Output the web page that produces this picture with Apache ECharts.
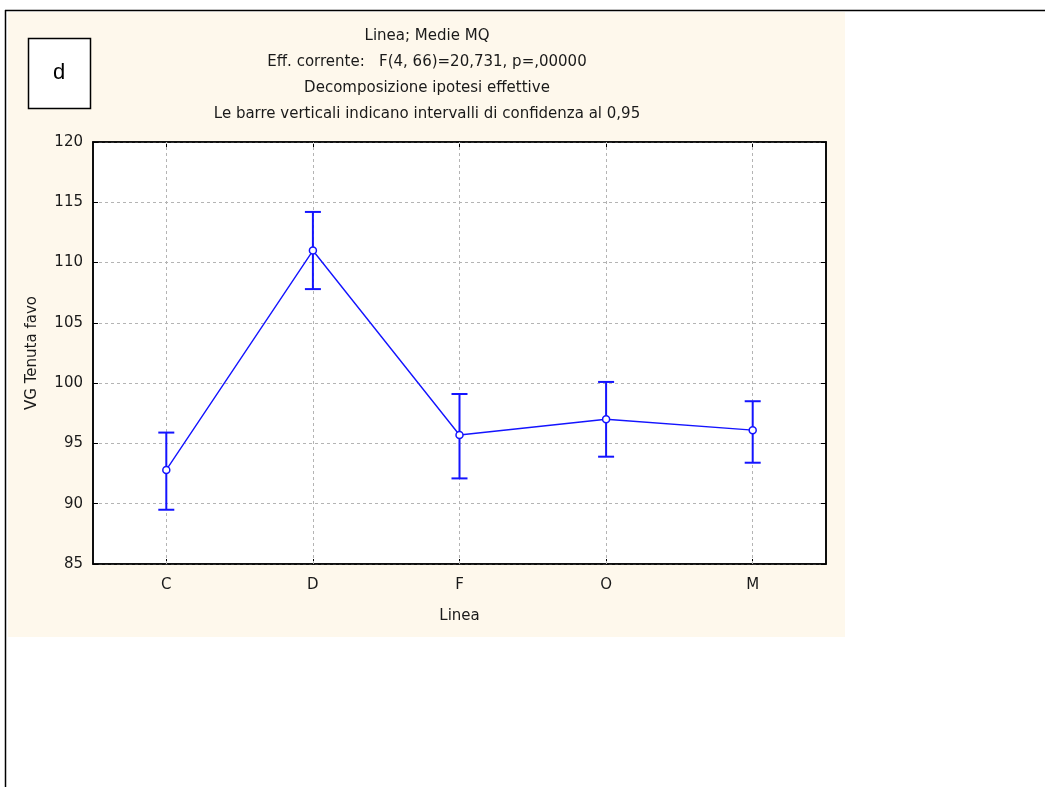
<!DOCTYPE html>
<html><head><meta charset="utf-8">
<script src="https://cdn.jsdelivr.net/npm/echarts@6/dist/echarts.min.js"></script>
<style>html,body{margin:0;padding:0;background:#fff;}#c{width:1045px;height:787px;}</style>
</head><body><div id="c"></div>
<script>
const categories = ['C', 'D', 'F', 'O', 'M'];
const means = [92.8, 111.0, 95.7, 97.0, 96.1];
const upper = [95.9, 114.2, 99.1, 100.1, 98.5];
const lower = [89.5, 107.8, 92.1, 93.9, 93.4];
const titleLines = [
  'Linea; Medie MQ',
  'Eff. corrente:   F(4, 66)=20,731, p=,00000',
  'Decomposizione ipotesi effettive',
  'Le barre verticali indicano intervalli di confidenza al 0,95'
];

const chart = echarts.init(document.getElementById('c'));
const font = '"DejaVu Sans", sans-serif';
const fs = 15;
const blue = '#1414ff';
const grey = '#b4b4b4';

const errData = categories.map((c, i) => [i, lower[i], upper[i]]);
const titleY = [36, 62, 88, 114];

chart.setOption({
  backgroundColor: '#fff',
  animation: false,
  graphic: [
    { type: 'rect', shape: { x: 8, y: 12, width: 837, height: 625 }, style: { fill: '#fef8ec' }, z: -10 },
    { type: 'line', shape: { x1: 5, y1: 10.5, x2: 1045, y2: 10.5 }, style: { stroke: '#000', lineWidth: 1.5 } },
    { type: 'line', shape: { x1: 5.5, y1: 10, x2: 5.5, y2: 787 }, style: { stroke: '#000', lineWidth: 1.5 } },
    { type: 'rect', shape: { x: 28.5, y: 38.5, width: 62, height: 70 }, style: { fill: '#fff', stroke: '#000', lineWidth: 1.5 } },
    { type: 'text', x: 59, y: 73, style: { text: 'd', font: '22px "Liberation Sans", Arial, sans-serif', fill: '#000', align: 'center', verticalAlign: 'middle' } },
    ...titleLines.map((t, i) => ({
      type: 'text', x: 427, y: titleY[i],
      style: { text: t, font: fs + 'px ' + font, fill: '#1a1a1a', align: 'center', verticalAlign: 'middle' }
    }))
  ],
  grid: { left: 93, right: 219, top: 142, bottom: 223, show: true, backgroundColor: '#fff', borderColor: '#000', borderWidth: 1.5 },
  xAxis: [{
    type: 'category', data: categories, boundaryGap: true, position: 'bottom',
    name: 'Linea', nameLocation: 'middle', nameGap: 45,
    nameTextStyle: { fontFamily: font, fontSize: fs, color: '#1a1a1a' },
    axisLine: { lineStyle: { color: '#000', width: 1.5 } },
    axisTick: { show: true, alignWithLabel: true, inside: true, length: 5, lineStyle: { color: '#000' } },
    axisLabel: { fontFamily: font, fontSize: fs, color: '#1a1a1a', margin: 14 },
    splitLine: { show: false }
  }, {
    type: 'category', data: categories, boundaryGap: true, position: 'top',
    axisLine: { lineStyle: { color: '#000', width: 1.5 } },
    axisTick: { show: true, alignWithLabel: true, inside: true, length: 5, lineStyle: { color: '#000' } },
    axisLabel: { show: false }, splitLine: { show: false }
  }],
  yAxis: [{
    type: 'value', min: 85, max: 120, interval: 5, position: 'left',
    name: 'VG Tenuta favo', nameLocation: 'middle', nameGap: 53,
    nameTextStyle: { fontFamily: font, fontSize: fs, color: '#1a1a1a' },
    axisLine: { show: true, lineStyle: { color: '#000', width: 1.5 } },
    axisTick: { show: true, inside: true, length: 5, lineStyle: { color: '#000' } },
    axisLabel: { fontFamily: font, fontSize: fs, color: '#1a1a1a', margin: 10 },
    splitLine: { show: true, lineStyle: { color: grey, type: [3, 3], width: 1 } }
  }, {
    type: 'value', min: 85, max: 120, interval: 5, position: 'right',
    axisLine: { show: true, lineStyle: { color: '#000', width: 1.5 } },
    axisTick: { show: true, inside: true, length: 5, lineStyle: { color: '#000' } },
    axisLabel: { show: false }, splitLine: { show: false }
  }],
  series: [
    {
      type: 'custom',
      data: errData,
      z: 3,
      renderItem: function (params, api) {
        const x = api.value(0);
        const lo = api.coord([x, api.value(1)]);
        const hi = api.coord([x, api.value(2)]);
        const hw = 8;
        const st = { stroke: blue, lineWidth: 2, fill: null };
        return { type: 'group', children: [
          { type: 'line', shape: { x1: lo[0], y1: lo[1], x2: hi[0], y2: hi[1] }, style: st },
          { type: 'line', shape: { x1: lo[0] - hw, y1: lo[1], x2: lo[0] + hw, y2: lo[1] }, style: st },
          { type: 'line', shape: { x1: hi[0] - hw, y1: hi[1], x2: hi[0] + hw, y2: hi[1] }, style: st }
        ]};
      }
    },
    {
      type: 'line', data: means, z: 4,
      symbol: 'circle', symbolSize: 7,
      lineStyle: { color: blue, width: 1.4 },
      itemStyle: { color: '#fff', borderColor: blue, borderWidth: 1.5 },
      markLine: {
        silent: true, symbol: 'none', z: 1,
        label: { show: false },
        lineStyle: { color: grey, type: [3, 3], width: 1 },
        data: categories.map(c => ({ xAxis: c }))
      }
    }
  ]
});
</script></body></html>
